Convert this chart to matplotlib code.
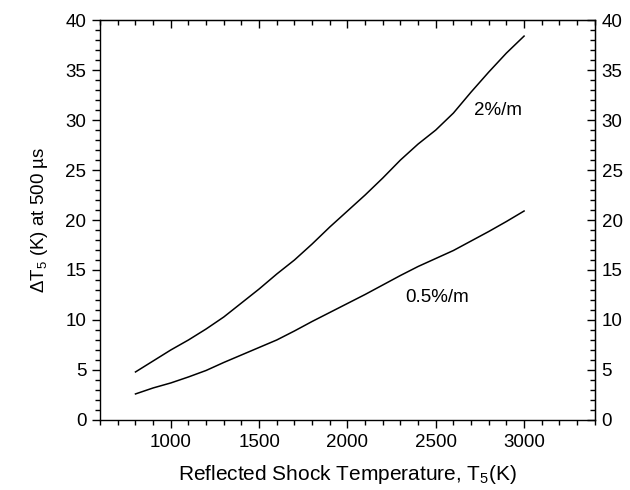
import matplotlib
matplotlib.use("Agg")
import matplotlib.pyplot as plt
from matplotlib.ticker import MultipleLocator

plt.rcParams['font.family'] = ['Liberation Sans', 'DejaVu Sans']
plt.rcParams['mathtext.fontset'] = 'custom'
plt.rcParams['mathtext.rm'] = 'Liberation Sans'
plt.rcParams['mathtext.it'] = 'Liberation Sans:italic'

# Data
temps = [800, 900, 1000, 1100, 1200, 1300, 1400, 1500, 1600, 1700, 1800, 1900,
         2000, 2100, 2200, 2300, 2400, 2500, 2600, 2700, 2800, 2900, 3000]
dT_2pct = [4.8, 5.9, 7.0, 8.0, 9.1, 10.3, 11.7, 13.1, 14.6, 16.0, 17.6, 19.3,
           20.9, 22.5, 24.2, 26.0, 27.6, 29.0, 30.7, 32.8, 34.8, 36.7, 38.4]
dT_05pct = [2.6, 3.2, 3.7, 4.3, 4.95, 5.75, 6.5, 7.25, 8.0, 8.9, 9.85, 10.75,
            11.65, 12.55, 13.5, 14.45, 15.35, 16.15, 16.95, 17.9, 18.85, 19.85, 20.9]

fig = plt.figure(figsize=(6.3, 4.9), dpi=100)
ax = fig.add_axes([0.159, 0.143, 0.785, 0.816])

ax.plot(temps, dT_2pct, color='black', lw=1.1)
ax.plot(temps, dT_05pct, color='black', lw=1.1)

ax.text(2715, 31, '2%/m', fontsize=13.5, va='center', ha='left')
ax.text(2330, 12.2, '0.5%/m', fontsize=13.5, va='center', ha='left')

ax.set_xlim(600, 3400)
ax.set_ylim(0, 40)
ax.set_xticks([1000, 1500, 2000, 2500, 3000])
ax.xaxis.set_minor_locator(MultipleLocator(100))
ax.yaxis.set_major_locator(MultipleLocator(5))
ax.yaxis.set_minor_locator(MultipleLocator(1))

ax.tick_params(which='major', direction='out', length=6, width=1, labelsize=13.5, pad=4)
ax.tick_params(which='minor', direction='out', length=3.5, width=1)

# top and right axes with inward ticks
top = ax.secondary_xaxis('top')
top.xaxis.set_major_locator(MultipleLocator(500))
top.xaxis.set_minor_locator(MultipleLocator(100))
top.tick_params(which='major', direction='in', length=6, width=1, labeltop=False)
top.tick_params(which='minor', direction='in', length=3.5, width=1)

right = ax.secondary_yaxis('right')
right.yaxis.set_major_locator(MultipleLocator(5))
right.yaxis.set_minor_locator(MultipleLocator(1))
right.tick_params(which='major', direction='in', length=6, width=1, labelsize=13.5, pad=5)
right.tick_params(which='minor', direction='in', length=3.5, width=1)

for s in ax.spines.values():
    s.set_linewidth(1)

ax.set_xlabel('Reflected Shock Temperature, T$_5$(K)', fontsize=15, labelpad=9)
ax.set_ylabel('ΔT$_5$ (K) at 500 µs', fontsize=13.5, labelpad=11)

fig.savefig('out.png', dpi=100)
